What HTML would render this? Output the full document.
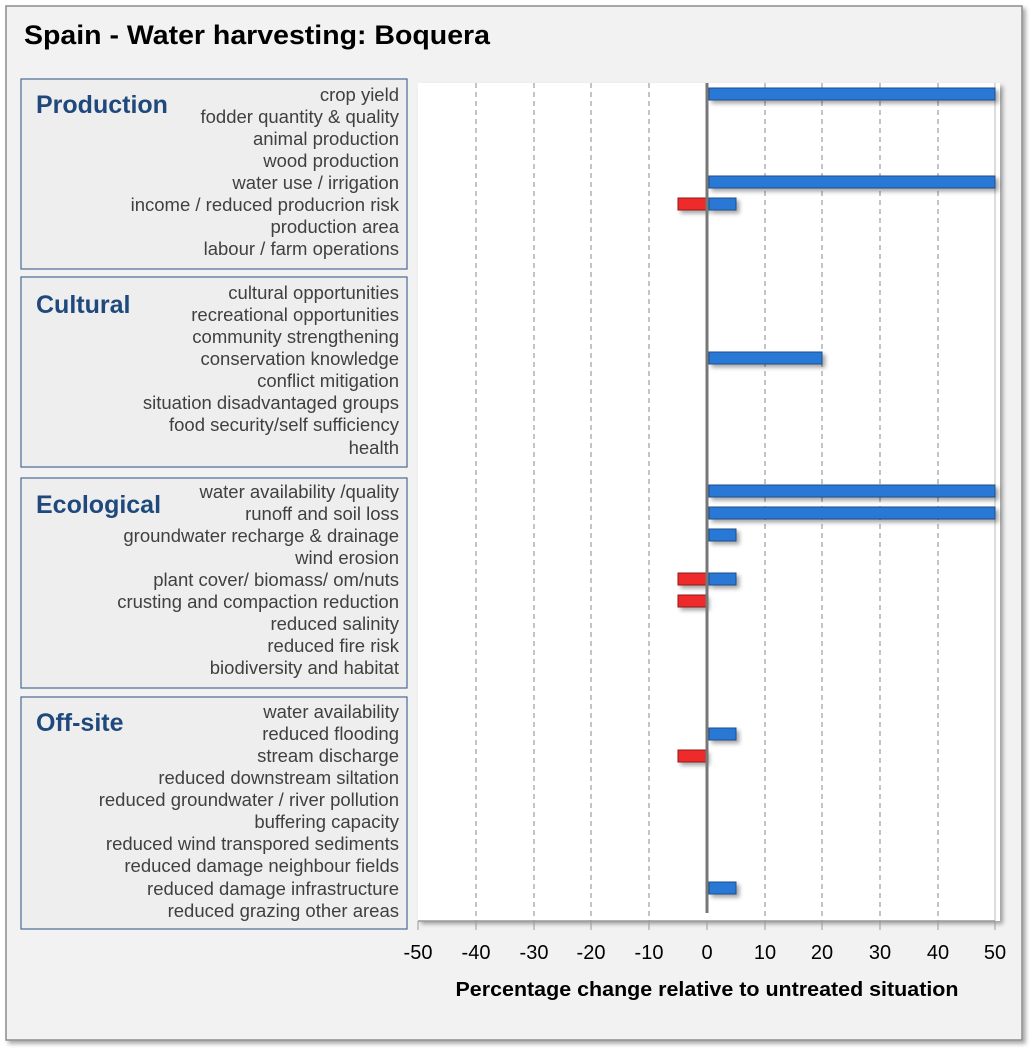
<!DOCTYPE html>
<html><head><meta charset="utf-8"><style>
html,body{margin:0;padding:0;background:#fff;}
svg{display:block;font-family:"Liberation Sans",sans-serif;}
</style></head><body>
<svg width="1036" height="1054" viewBox="0 0 1036 1054" xmlns="http://www.w3.org/2000/svg">
<defs>
<filter id="sh" x="-5%" y="-5%" width="110%" height="110%"><feDropShadow dx="3" dy="3" stdDeviation="2" flood-color="#000" flood-opacity="0.35"/></filter>
<filter id="bs" x="-10%" y="-50%" width="120%" height="200%"><feDropShadow dx="3" dy="3" stdDeviation="2" flood-color="#000" flood-opacity="0.35"/></filter>
</defs>
<rect x="6" y="6" width="1016" height="1034" fill="#f2f2f2" stroke="#8c8c8c" stroke-width="1.5" filter="url(#sh)"/>
<text x="24" y="44" font-size="27" font-weight="bold" fill="#000" textLength="466" lengthAdjust="spacingAndGlyphs">Spain - Water harvesting: Boquera</text>

<g fill="#eeeeee" stroke="#4a6a96" stroke-width="1.2">
<rect x="21" y="79" width="386" height="190"/>
<rect x="21" y="277" width="386" height="190"/>
<rect x="21" y="478" width="386" height="210"/>
<rect x="21" y="697" width="386" height="232"/>
</g>
<g font-size="25" font-weight="bold" fill="#1f497d">
<text x="36" y="113">Production</text>
<text x="36" y="313">Cultural</text>
<text x="36" y="513">Ecological</text>
<text x="36" y="731">Off-site</text>
</g>

<rect x="418" y="83" width="582" height="838" fill="#fff" filter="url(#sh)"/>
<g stroke="#888" stroke-width="1" stroke-dasharray="5,4">
<line x1="476" y1="83" x2="476" y2="921"/><line x1="534" y1="83" x2="534" y2="921"/>
<line x1="591" y1="83" x2="591" y2="921"/><line x1="649" y1="83" x2="649" y2="921"/>
<line x1="765" y1="83" x2="765" y2="921"/><line x1="822" y1="83" x2="822" y2="921"/>
<line x1="880" y1="83" x2="880" y2="921"/><line x1="938" y1="83" x2="938" y2="921"/>
</g>
<line x1="995" y1="83" x2="995" y2="921" stroke="#bbb"/>
<line x1="418" y1="921" x2="995" y2="921" stroke="#999" stroke-width="1.5"/>
<g stroke="#999"><line x1="418" y1="921" x2="418" y2="930"/><line x1="476" y1="921" x2="476" y2="930"/><line x1="534" y1="921" x2="534" y2="930"/><line x1="591" y1="921" x2="591" y2="930"/><line x1="649" y1="921" x2="649" y2="930"/><line x1="707" y1="921" x2="707" y2="930"/><line x1="765" y1="921" x2="765" y2="930"/><line x1="822" y1="921" x2="822" y2="930"/><line x1="880" y1="921" x2="880" y2="930"/><line x1="938" y1="921" x2="938" y2="930"/><line x1="995" y1="921" x2="995" y2="930"/></g>

<g filter="url(#bs)" stroke-width="1">
<g fill="#2a78d6" stroke="#1c4f8c">
<rect x="709" y="88" width="286" height="12"/>
<rect x="709" y="176" width="286" height="12"/>
<rect x="709" y="198" width="27" height="12"/>
<rect x="709" y="352" width="113" height="12"/>
<rect x="709" y="485" width="286" height="12"/>
<rect x="709" y="507" width="286" height="12"/>
<rect x="709" y="529" width="27" height="12"/>
<rect x="709" y="573" width="27" height="12"/>
<rect x="709" y="728" width="27" height="12"/>
<rect x="709" y="882" width="27" height="12"/>
</g>
<g fill="#ee2a2a" stroke="#8c1a1a">
<rect x="678" y="198" width="28" height="12"/>
<rect x="678" y="573" width="28" height="12"/>
<rect x="678" y="595" width="28" height="12"/>
<rect x="678" y="750" width="28" height="12"/>
</g>
</g>
<line x1="707" y1="83" x2="707" y2="913" stroke="#777" stroke-width="3"/>

<g font-size="18.5" fill="#404040" text-anchor="end">
<text x="399" y="101">crop yield</text>
<text x="399" y="123">fodder quantity &amp; quality</text>
<text x="399" y="145">animal production</text>
<text x="399" y="167">wood production</text>
<text x="399" y="189">water use / irrigation</text>
<text x="399" y="211">income / reduced producrion risk</text>
<text x="399" y="233">production area</text>
<text x="399" y="255">labour / farm operations</text>
<text x="399" y="299">cultural opportunities</text>
<text x="399" y="321">recreational opportunities</text>
<text x="399" y="343">community strengthening</text>
<text x="399" y="365">conservation knowledge</text>
<text x="399" y="387">conflict mitigation</text>
<text x="399" y="409">situation disadvantaged groups</text>
<text x="399" y="431">food security/self sufficiency</text>
<text x="399" y="454">health</text>
<text x="399" y="498">water availability /quality</text>
<text x="399" y="520">runoff and soil loss</text>
<text x="399" y="542">groundwater recharge &amp; drainage</text>
<text x="399" y="564">wind erosion</text>
<text x="399" y="586">plant cover/ biomass/ om/nuts</text>
<text x="399" y="608">crusting and compaction reduction</text>
<text x="399" y="630">reduced salinity</text>
<text x="399" y="652">reduced fire risk</text>
<text x="399" y="674">biodiversity and habitat</text>
<text x="399" y="718">water availability</text>
<text x="399" y="740">reduced flooding</text>
<text x="399" y="762">stream discharge</text>
<text x="399" y="784">reduced downstream siltation</text>
<text x="399" y="806">reduced groundwater / river pollution</text>
<text x="399" y="828">buffering capacity</text>
<text x="399" y="850">reduced wind transpored sediments</text>
<text x="399" y="872">reduced damage neighbour fields</text>
<text x="399" y="895">reduced damage infrastructure</text>
<text x="399" y="917">reduced grazing other areas</text>
</g>

<g font-size="20" fill="#000" text-anchor="middle">
<text x="418" y="959">-50</text><text x="476" y="959">-40</text><text x="534" y="959">-30</text>
<text x="591" y="959">-20</text><text x="649" y="959">-10</text><text x="707" y="959">0</text>
<text x="765" y="959">10</text><text x="822" y="959">20</text><text x="880" y="959">30</text>
<text x="938" y="959">40</text><text x="995" y="959">50</text>
</g>
<text x="707" y="996" font-size="20" font-weight="bold" text-anchor="middle" fill="#000" textLength="503" lengthAdjust="spacingAndGlyphs">Percentage change relative to untreated situation</text>
</svg>
</body></html>
